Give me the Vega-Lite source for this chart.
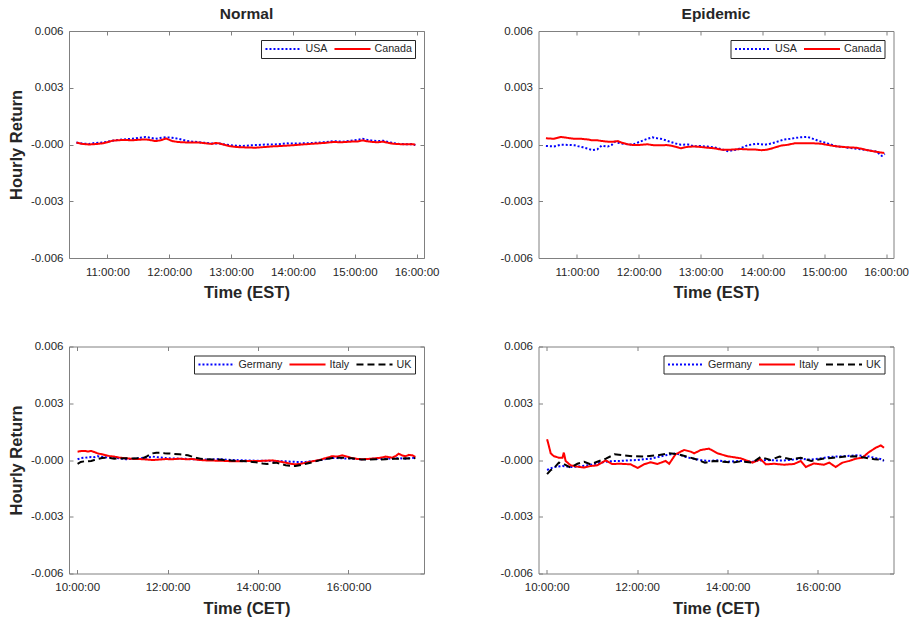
{
 "$schema": "https://vega.github.io/schema/vega-lite/v6.json",
 "background": "white",
 "padding": {"left": 8, "top": 6, "right": 2, "bottom": 2},
 "config": {
  "font": "Liberation Sans",
  "view": {"stroke": "#808080", "strokeWidth": 1},
  "axis": {"grid": false, "domain": false, "tickColor": "#808080", "tickSize": -4, "labelColor": "#262626", "labelFontSize": 11.5, "titleColor": "#262626", "titleFontSize": 16.5, "titleFontWeight": "bold", "labelPadding": 10},
  "axisX": {"labelPadding": 12, "titlePadding": 7},
  "axisY": {"labelPadding": 10, "titlePadding": 5.5},
  "title": {"fontSize": 15.5, "fontWeight": "bold", "color": "#262626", "offset": 3},
  "legend": {"orient": "top-right", "direction": "horizontal", "symbolType": "stroke", "symbolSize": 1300, "symbolStrokeWidth": 2, "clipHeight": 12, "strokeColor": "#262626", "fillColor": "white", "padding": 3, "offset": 9, "labelFontSize": 10.7, "labelColor": "#262626", "columnPadding": 5, "labelOffset": 2.5, "cornerRadius": 0}
 },
 "columns": 2,
 "spacing": {"column": 58.5, "row": 37.5},
 "resolve": {"scale": {"color": "independent", "strokeDash": "independent", "x": "independent", "y": "independent"}},
 "concat": [
  {
   "width": 355, "height": 227, "title": "Normal",
   "data": {"name": "normal_na"},
   "layer": [
    {"mark": {"type": "line", "strokeWidth": 2},
     "encoding": {
      "x": {"field": "t", "type": "quantitative", "scale": {"domain": [10.38, 16.12], "nice": false, "zero": false}, "axis": {"orient": "bottom", "values": [11, 12, 13, 14, 15, 16], "labelExpr": "datum.value + ':00:00'", "title": "Time (EST)"}},
      "y": {"field": "r", "type": "quantitative", "scale": {"domain": [-0.006, 0.006], "nice": false}, "axis": {"orient": "left", "values": [-0.006, -0.003, 0, 0.003, 0.006], "labelExpr": "(datum.value <= 0 ? '-' : '') + format(abs(datum.value), '.3f')", "title": "Hourly Return"}},
      "color": {"field": "series", "type": "nominal", "scale": {"domain": ["USA", "Canada"], "range": ["#0000ff", "#ff0000"]}, "legend": {"title": null}},
      "strokeDash": {"field": "series", "type": "nominal", "scale": {"domain": ["USA", "Canada"], "range": [[2, 2], [1, 0]]}, "legend": {"title": null}}
     }},
    {"mark": {"type": "point", "opacity": 0},
     "encoding": {
      "x": {"field": "t", "type": "quantitative", "scale": {"domain": [10.38, 16.12], "nice": false, "zero": false}, "axis": {"orient": "top", "values": [11, 12, 13, 14, 15, 16], "labels": false, "title": null}},
      "y": {"field": "r", "type": "quantitative", "scale": {"domain": [-0.006, 0.006], "nice": false}, "axis": {"orient": "right", "values": [-0.006, -0.003, 0, 0.003, 0.006], "labels": false, "title": null}}
     }}
   ]
  },
  {
   "width": 355, "height": 227, "title": "Epidemic",
   "data": {"name": "epidemic_na"},
   "layer": [
    {"mark": {"type": "line", "strokeWidth": 2},
     "encoding": {
      "x": {"field": "t", "type": "quantitative", "scale": {"domain": [10.38, 16.12], "nice": false, "zero": false}, "axis": {"orient": "bottom", "values": [11, 12, 13, 14, 15, 16], "labelExpr": "datum.value + ':00:00'", "title": "Time (EST)"}},
      "y": {"field": "r", "type": "quantitative", "scale": {"domain": [-0.006, 0.006], "nice": false}, "axis": {"orient": "left", "values": [-0.006, -0.003, 0, 0.003, 0.006], "labelExpr": "(datum.value <= 0 ? '-' : '') + format(abs(datum.value), '.3f')", "title": null}},
      "color": {"field": "series", "type": "nominal", "scale": {"domain": ["USA", "Canada"], "range": ["#0000ff", "#ff0000"]}, "legend": {"title": null}},
      "strokeDash": {"field": "series", "type": "nominal", "scale": {"domain": ["USA", "Canada"], "range": [[2, 2], [1, 0]]}, "legend": {"title": null}}
     }},
    {"mark": {"type": "point", "opacity": 0},
     "encoding": {
      "x": {"field": "t", "type": "quantitative", "scale": {"domain": [10.38, 16.12], "nice": false, "zero": false}, "axis": {"orient": "top", "values": [11, 12, 13, 14, 15, 16], "labels": false, "title": null}},
      "y": {"field": "r", "type": "quantitative", "scale": {"domain": [-0.006, 0.006], "nice": false}, "axis": {"orient": "right", "values": [-0.006, -0.003, 0, 0.003, 0.006], "labels": false, "title": null}}
     }}
   ]
  },
  {
   "width": 355, "height": 227,
   "data": {"name": "normal_eu"},
   "layer": [
    {"mark": {"type": "line", "strokeWidth": 2},
     "encoding": {
      "x": {"field": "t", "type": "quantitative", "scale": {"domain": [9.82, 17.67], "nice": false, "zero": false}, "axis": {"orient": "bottom", "values": [10, 12, 14, 16], "labelExpr": "datum.value + ':00:00'", "title": "Time (CET)"}},
      "y": {"field": "r", "type": "quantitative", "scale": {"domain": [-0.006, 0.006], "nice": false}, "axis": {"orient": "left", "values": [-0.006, -0.003, 0, 0.003, 0.006], "labelExpr": "(datum.value <= 0 ? '-' : '') + format(abs(datum.value), '.3f')", "title": "Hourly Return"}},
      "color": {"field": "series", "type": "nominal", "scale": {"domain": ["Germany", "Italy", "UK"], "range": ["#0000ff", "#ff0000", "#000000"]}, "legend": {"title": null}},
      "strokeDash": {"field": "series", "type": "nominal", "scale": {"domain": ["Germany", "Italy", "UK"], "range": [[2, 2], [1, 0], [7, 4]]}, "legend": {"title": null}}
     }},
    {"mark": {"type": "point", "opacity": 0},
     "encoding": {
      "x": {"field": "t", "type": "quantitative", "scale": {"domain": [9.82, 17.67], "nice": false, "zero": false}, "axis": {"orient": "top", "values": [10, 12, 14, 16], "labels": false, "title": null}},
      "y": {"field": "r", "type": "quantitative", "scale": {"domain": [-0.006, 0.006], "nice": false}, "axis": {"orient": "right", "values": [-0.006, -0.003, 0, 0.003, 0.006], "labels": false, "title": null}}
     }}
   ]
  },
  {
   "width": 355, "height": 227,
   "data": {"name": "epidemic_eu"},
   "layer": [
    {"mark": {"type": "line", "strokeWidth": 2},
     "encoding": {
      "x": {"field": "t", "type": "quantitative", "scale": {"domain": [9.82, 17.67], "nice": false, "zero": false}, "axis": {"orient": "bottom", "values": [10, 12, 14, 16], "labelExpr": "datum.value + ':00:00'", "title": "Time (CET)"}},
      "y": {"field": "r", "type": "quantitative", "scale": {"domain": [-0.006, 0.006], "nice": false}, "axis": {"orient": "left", "values": [-0.006, -0.003, 0, 0.003, 0.006], "labelExpr": "(datum.value <= 0 ? '-' : '') + format(abs(datum.value), '.3f')", "title": null}},
      "color": {"field": "series", "type": "nominal", "scale": {"domain": ["Germany", "Italy", "UK"], "range": ["#0000ff", "#ff0000", "#000000"]}, "legend": {"title": null}},
      "strokeDash": {"field": "series", "type": "nominal", "scale": {"domain": ["Germany", "Italy", "UK"], "range": [[2, 2], [1, 0], [7, 4]]}, "legend": {"title": null}}
     }},
    {"mark": {"type": "point", "opacity": 0},
     "encoding": {
      "x": {"field": "t", "type": "quantitative", "scale": {"domain": [9.82, 17.67], "nice": false, "zero": false}, "axis": {"orient": "top", "values": [10, 12, 14, 16], "labels": false, "title": null}},
      "y": {"field": "r", "type": "quantitative", "scale": {"domain": [-0.006, 0.006], "nice": false}, "axis": {"orient": "right", "values": [-0.006, -0.003, 0, 0.003, 0.006], "labels": false, "title": null}}
     }}
   ]
  }
 ],
 "datasets": {
  "normal_na": [
   {"series":"USA","t":10.5,"r":0.0001},{"series":"USA","t":10.6,"r":0.00005},{"series":"USA","t":10.7,"r":0.00003},{"series":"USA","t":10.8,"r":0.00008},{"series":"USA","t":10.92,"r":0.0001},{"series":"USA","t":11.08,"r":0.0002},{"series":"USA","t":11.2,"r":0.00025},{"series":"USA","t":11.3,"r":0.00028},{"series":"USA","t":11.4,"r":0.0003},{"series":"USA","t":11.5,"r":0.00035},{"series":"USA","t":11.62,"r":0.0004},{"series":"USA","t":11.7,"r":0.00035},{"series":"USA","t":11.78,"r":0.0003},{"series":"USA","t":11.88,"r":0.00036},{"series":"USA","t":11.95,"r":0.00038},{"series":"USA","t":12.05,"r":0.00036},{"series":"USA","t":12.15,"r":0.0003},{"series":"USA","t":12.27,"r":0.0002},{"series":"USA","t":12.38,"r":0.00015},{"series":"USA","t":12.49,"r":0.00012},{"series":"USA","t":12.6,"r":0.00008},{"series":"USA","t":12.68,"r":0.00005},{"series":"USA","t":12.81,"r":0.00005},{"series":"USA","t":12.9,"r":0.0},{"series":"USA","t":12.97,"r":-0.00003},{"series":"USA","t":13.08,"r":-0.00006},{"series":"USA","t":13.19,"r":-0.00008},{"series":"USA","t":13.3,"r":-0.00005},{"series":"USA","t":13.4,"r":-0.00003},{"series":"USA","t":13.55,"r":0.0},{"series":"USA","t":13.67,"r":0.0},{"series":"USA","t":13.8,"r":0.00002},{"series":"USA","t":13.9,"r":0.00006},{"series":"USA","t":14.0,"r":0.00005},{"series":"USA","t":14.15,"r":0.00006},{"series":"USA","t":14.32,"r":0.00008},{"series":"USA","t":14.5,"r":0.00012},{"series":"USA","t":14.65,"r":0.00018},{"series":"USA","t":14.8,"r":0.00015},{"series":"USA","t":14.92,"r":0.0002},{"series":"USA","t":15.05,"r":0.00025},{"series":"USA","t":15.13,"r":0.0003},{"series":"USA","t":15.2,"r":0.00025},{"series":"USA","t":15.29,"r":0.0002},{"series":"USA","t":15.38,"r":0.00018},{"series":"USA","t":15.46,"r":0.0002},{"series":"USA","t":15.55,"r":0.00012},{"series":"USA","t":15.62,"r":0.00008},{"series":"USA","t":15.72,"r":0.00003},{"series":"USA","t":15.84,"r":0.00001},{"series":"USA","t":15.92,"r":0.00002},{"series":"USA","t":15.98,"r":-0.00003},
   {"series":"Canada","t":10.5,"r":0.0001},{"series":"Canada","t":10.6,"r":0.00003},{"series":"Canada","t":10.7,"r":0.0},{"series":"Canada","t":10.8,"r":0.00002},{"series":"Canada","t":10.92,"r":0.00006},{"series":"Canada","t":11.0,"r":0.00012},{"series":"Canada","t":11.08,"r":0.0002},{"series":"Canada","t":11.2,"r":0.00023},{"series":"Canada","t":11.3,"r":0.00024},{"series":"Canada","t":11.4,"r":0.00022},{"series":"Canada","t":11.5,"r":0.00025},{"series":"Canada","t":11.62,"r":0.00027},{"series":"Canada","t":11.7,"r":0.00023},{"series":"Canada","t":11.78,"r":0.00018},{"series":"Canada","t":11.86,"r":0.00022},{"series":"Canada","t":11.95,"r":0.00032},{"series":"Canada","t":12.05,"r":0.00018},{"series":"Canada","t":12.15,"r":0.00013},{"series":"Canada","t":12.27,"r":0.00011},{"series":"Canada","t":12.38,"r":0.00011},{"series":"Canada","t":12.49,"r":0.0001},{"series":"Canada","t":12.6,"r":0.00006},{"series":"Canada","t":12.68,"r":0.00003},{"series":"Canada","t":12.75,"r":0.00008},{"series":"Canada","t":12.81,"r":0.00006},{"series":"Canada","t":12.9,"r":-0.00002},{"series":"Canada","t":12.97,"r":-0.00008},{"series":"Canada","t":13.08,"r":-0.00013},{"series":"Canada","t":13.19,"r":-0.00015},{"series":"Canada","t":13.3,"r":-0.00016},{"series":"Canada","t":13.4,"r":-0.00017},{"series":"Canada","t":13.55,"r":-0.00013},{"series":"Canada","t":13.67,"r":-0.0001},{"series":"Canada","t":13.8,"r":-0.00008},{"series":"Canada","t":13.9,"r":-0.00006},{"series":"Canada","t":14.0,"r":-0.00004},{"series":"Canada","t":14.15,"r":0.0},{"series":"Canada","t":14.32,"r":0.00004},{"series":"Canada","t":14.5,"r":0.00008},{"series":"Canada","t":14.65,"r":0.00013},{"series":"Canada","t":14.8,"r":0.00012},{"series":"Canada","t":14.92,"r":0.00015},{"series":"Canada","t":15.05,"r":0.00016},{"series":"Canada","t":15.13,"r":0.00022},{"series":"Canada","t":15.2,"r":0.00017},{"series":"Canada","t":15.29,"r":0.00013},{"series":"Canada","t":15.38,"r":0.00012},{"series":"Canada","t":15.46,"r":0.00015},{"series":"Canada","t":15.55,"r":0.00008},{"series":"Canada","t":15.62,"r":0.00004},{"series":"Canada","t":15.72,"r":0.00002},{"series":"Canada","t":15.84,"r":0.00001},{"series":"Canada","t":15.92,"r":0.00002},{"series":"Canada","t":15.98,"r":-0.00001}
  ],
  "epidemic_na": [
   {"series":"USA","t":10.5,"r":-0.00008},{"series":"USA","t":10.63,"r":-0.0001},{"series":"USA","t":10.74,"r":-0.00001},{"series":"USA","t":10.85,"r":-0.00002},{"series":"USA","t":10.96,"r":-0.00004},{"series":"USA","t":11.03,"r":-0.0001},{"series":"USA","t":11.1,"r":-0.00015},{"series":"USA","t":11.18,"r":-0.00022},{"series":"USA","t":11.25,"r":-0.0003},{"series":"USA","t":11.33,"r":-0.00026},{"series":"USA","t":11.4,"r":-0.00006},{"series":"USA","t":11.5,"r":-0.00011},{"series":"USA","t":11.56,"r":-0.00003},{"series":"USA","t":11.62,"r":0.00015},{"series":"USA","t":11.68,"r":0.00008},{"series":"USA","t":11.75,"r":0.00004},{"series":"USA","t":11.9,"r":-0.00001},{"series":"USA","t":12.02,"r":0.00015},{"series":"USA","t":12.14,"r":0.0003},{"series":"USA","t":12.22,"r":0.00038},{"series":"USA","t":12.3,"r":0.00033},{"series":"USA","t":12.36,"r":0.0003},{"series":"USA","t":12.44,"r":0.00022},{"series":"USA","t":12.52,"r":0.00013},{"series":"USA","t":12.6,"r":0.00005},{"series":"USA","t":12.68,"r":-0.00001},{"series":"USA","t":12.8,"r":0.0},{"series":"USA","t":12.9,"r":-0.0001},{"series":"USA","t":13.0,"r":-0.00008},{"series":"USA","t":13.11,"r":-0.00011},{"series":"USA","t":13.22,"r":-0.00015},{"series":"USA","t":13.33,"r":-0.00024},{"series":"USA","t":13.45,"r":-0.00036},{"series":"USA","t":13.52,"r":-0.0003},{"series":"USA","t":13.6,"r":-0.00026},{"series":"USA","t":13.68,"r":-0.00015},{"series":"USA","t":13.76,"r":-0.00004},{"series":"USA","t":13.9,"r":0.00004},{"series":"USA","t":14.04,"r":-0.00001},{"series":"USA","t":14.12,"r":0.00004},{"series":"USA","t":14.2,"r":0.00011},{"series":"USA","t":14.35,"r":0.00026},{"series":"USA","t":14.45,"r":0.0003},{"series":"USA","t":14.52,"r":0.00034},{"series":"USA","t":14.62,"r":0.00038},{"series":"USA","t":14.73,"r":0.0004},{"series":"USA","t":14.82,"r":0.0003},{"series":"USA","t":14.9,"r":0.0002},{"series":"USA","t":15.05,"r":0.00006},{"series":"USA","t":15.2,"r":-0.0001},{"series":"USA","t":15.3,"r":-0.00012},{"series":"USA","t":15.38,"r":-0.00017},{"series":"USA","t":15.46,"r":-0.0002},{"series":"USA","t":15.54,"r":-0.00024},{"series":"USA","t":15.62,"r":-0.00026},{"series":"USA","t":15.7,"r":-0.0003},{"series":"USA","t":15.78,"r":-0.00034},{"series":"USA","t":15.85,"r":-0.00038},{"series":"USA","t":15.93,"r":-0.0006},{"series":"USA","t":15.98,"r":-0.0005},
   {"series":"Canada","t":10.5,"r":0.00033},{"series":"Canada","t":10.63,"r":0.0003},{"series":"Canada","t":10.74,"r":0.0004},{"series":"Canada","t":10.85,"r":0.00035},{"series":"Canada","t":10.96,"r":0.0003},{"series":"Canada","t":11.07,"r":0.0003},{"series":"Canada","t":11.17,"r":0.00027},{"series":"Canada","t":11.25,"r":0.00022},{"series":"Canada","t":11.33,"r":0.00022},{"series":"Canada","t":11.42,"r":0.00018},{"series":"Canada","t":11.5,"r":0.00015},{"series":"Canada","t":11.58,"r":0.00014},{"series":"Canada","t":11.66,"r":0.00018},{"series":"Canada","t":11.74,"r":0.00008},{"series":"Canada","t":11.82,"r":0.00001},{"series":"Canada","t":11.9,"r":-0.00002},{"series":"Canada","t":11.98,"r":-0.00003},{"series":"Canada","t":12.06,"r":-0.00001},{"series":"Canada","t":12.14,"r":0.00001},{"series":"Canada","t":12.25,"r":-0.00004},{"series":"Canada","t":12.36,"r":-0.00004},{"series":"Canada","t":12.45,"r":-0.00003},{"series":"Canada","t":12.52,"r":-0.00006},{"series":"Canada","t":12.6,"r":-0.00012},{"series":"Canada","t":12.68,"r":-0.0002},{"series":"Canada","t":12.78,"r":-0.00013},{"series":"Canada","t":12.9,"r":-0.0001},{"series":"Canada","t":13.0,"r":-0.00013},{"series":"Canada","t":13.11,"r":-0.00017},{"series":"Canada","t":13.22,"r":-0.0002},{"series":"Canada","t":13.33,"r":-0.00027},{"series":"Canada","t":13.44,"r":-0.00028},{"series":"Canada","t":13.55,"r":-0.00026},{"series":"Canada","t":13.66,"r":-0.00024},{"series":"Canada","t":13.76,"r":-0.00026},{"series":"Canada","t":13.87,"r":-0.00026},{"series":"Canada","t":13.98,"r":-0.0003},{"series":"Canada","t":14.06,"r":-0.00028},{"series":"Canada","t":14.14,"r":-0.00022},{"series":"Canada","t":14.22,"r":-0.00014},{"series":"Canada","t":14.3,"r":-0.00006},{"series":"Canada","t":14.4,"r":-0.00002},{"series":"Canada","t":14.52,"r":0.00006},{"series":"Canada","t":14.62,"r":0.00007},{"series":"Canada","t":14.73,"r":0.00006},{"series":"Canada","t":14.84,"r":0.00006},{"series":"Canada","t":14.95,"r":0.00004},{"series":"Canada","t":15.05,"r":-0.00002},{"series":"Canada","t":15.16,"r":-0.00008},{"series":"Canada","t":15.27,"r":-0.00012},{"series":"Canada","t":15.38,"r":-0.00015},{"series":"Canada","t":15.46,"r":-0.00016},{"series":"Canada","t":15.54,"r":-0.00018},{"series":"Canada","t":15.62,"r":-0.00024},{"series":"Canada","t":15.7,"r":-0.0003},{"series":"Canada","t":15.78,"r":-0.00035},{"series":"Canada","t":15.87,"r":-0.0004},{"series":"Canada","t":15.97,"r":-0.00045}
  ],
  "normal_eu": [
   {"series":"Germany","t":10.01,"r":0.00004},{"series":"Germany","t":10.08,"r":0.0001},{"series":"Germany","t":10.16,"r":0.00012},{"series":"Germany","t":10.24,"r":0.00014},{"series":"Germany","t":10.31,"r":0.00016},{"series":"Germany","t":10.38,"r":0.00015},{"series":"Germany","t":10.45,"r":0.0002},{"series":"Germany","t":10.55,"r":0.00016},{"series":"Germany","t":10.64,"r":0.00014},{"series":"Germany","t":10.73,"r":0.00013},{"series":"Germany","t":10.82,"r":0.00012},{"series":"Germany","t":10.95,"r":0.00008},{"series":"Germany","t":11.08,"r":0.00004},{"series":"Germany","t":11.23,"r":0.00006},{"series":"Germany","t":11.38,"r":0.00009},{"series":"Germany","t":11.52,"r":0.00012},{"series":"Germany","t":11.67,"r":0.00018},{"series":"Germany","t":11.8,"r":0.00014},{"series":"Germany","t":11.96,"r":0.0001},{"series":"Germany","t":12.1,"r":0.00008},{"series":"Germany","t":12.26,"r":0.00007},{"series":"Germany","t":12.4,"r":0.00006},{"series":"Germany","t":12.55,"r":0.00004},{"series":"Germany","t":12.7,"r":0.00003},{"series":"Germany","t":12.85,"r":0.00002},{"series":"Germany","t":13.0,"r":0.00003},{"series":"Germany","t":13.14,"r":0.00005},{"series":"Germany","t":13.3,"r":0.00002},{"series":"Germany","t":13.43,"r":0.0},{"series":"Germany","t":13.58,"r":-0.00001},{"series":"Germany","t":13.73,"r":-0.00002},{"series":"Germany","t":13.88,"r":-0.00003},{"series":"Germany","t":14.02,"r":-0.00004},{"series":"Germany","t":14.17,"r":-0.00004},{"series":"Germany","t":14.32,"r":-0.00005},{"series":"Germany","t":14.47,"r":-0.00006},{"series":"Germany","t":14.61,"r":-0.00007},{"series":"Germany","t":14.72,"r":-0.00009},{"series":"Germany","t":14.83,"r":-0.0001},{"series":"Germany","t":14.95,"r":-0.0001},{"series":"Germany","t":15.06,"r":-0.0001},{"series":"Germany","t":15.2,"r":-0.00006},{"series":"Germany","t":15.35,"r":-0.00002},{"series":"Germany","t":15.5,"r":0.00005},{"series":"Germany","t":15.64,"r":0.0001},{"series":"Germany","t":15.75,"r":0.0001},{"series":"Germany","t":15.86,"r":0.00009},{"series":"Germany","t":15.97,"r":0.00008},{"series":"Germany","t":16.08,"r":0.00007},{"series":"Germany","t":16.19,"r":0.00005},{"series":"Germany","t":16.3,"r":0.00004},{"series":"Germany","t":16.45,"r":0.00005},{"series":"Germany","t":16.6,"r":0.00007},{"series":"Germany","t":16.71,"r":0.00006},{"series":"Germany","t":16.82,"r":0.00007},{"series":"Germany","t":16.97,"r":0.00008},{"series":"Germany","t":17.11,"r":0.0001},{"series":"Germany","t":17.26,"r":0.00007},{"series":"Germany","t":17.37,"r":0.0001},{"series":"Germany","t":17.48,"r":0.00012},
   {"series":"Italy","t":10.01,"r":0.00044},{"series":"Italy","t":10.08,"r":0.00047},{"series":"Italy","t":10.16,"r":0.00048},{"series":"Italy","t":10.24,"r":0.00045},{"series":"Italy","t":10.31,"r":0.00048},{"series":"Italy","t":10.38,"r":0.00042},{"series":"Italy","t":10.45,"r":0.00035},{"series":"Italy","t":10.55,"r":0.0003},{"series":"Italy","t":10.64,"r":0.00025},{"series":"Italy","t":10.73,"r":0.0002},{"series":"Italy","t":10.82,"r":0.00018},{"series":"Italy","t":10.95,"r":0.00012},{"series":"Italy","t":11.08,"r":0.00009},{"series":"Italy","t":11.23,"r":0.00006},{"series":"Italy","t":11.38,"r":0.00005},{"series":"Italy","t":11.52,"r":0.00003},{"series":"Italy","t":11.67,"r":0.0},{"series":"Italy","t":11.8,"r":0.00002},{"series":"Italy","t":11.96,"r":0.00005},{"series":"Italy","t":12.1,"r":0.00004},{"series":"Italy","t":12.26,"r":0.00007},{"series":"Italy","t":12.4,"r":0.00004},{"series":"Italy","t":12.55,"r":0.00005},{"series":"Italy","t":12.7,"r":0.0},{"series":"Italy","t":12.85,"r":-0.00002},{"series":"Italy","t":13.0,"r":-0.00003},{"series":"Italy","t":13.14,"r":-0.00004},{"series":"Italy","t":13.3,"r":-0.00005},{"series":"Italy","t":13.43,"r":-0.00007},{"series":"Italy","t":13.58,"r":-0.00007},{"series":"Italy","t":13.73,"r":-0.00005},{"series":"Italy","t":13.88,"r":-0.00006},{"series":"Italy","t":14.02,"r":-0.00005},{"series":"Italy","t":14.17,"r":-0.00004},{"series":"Italy","t":14.32,"r":-0.00002},{"series":"Italy","t":14.47,"r":-0.00008},{"series":"Italy","t":14.61,"r":-0.00014},{"series":"Italy","t":14.72,"r":-0.0002},{"series":"Italy","t":14.83,"r":-0.00023},{"series":"Italy","t":14.95,"r":-0.0002},{"series":"Italy","t":15.06,"r":-0.00014},{"series":"Italy","t":15.2,"r":-0.00007},{"series":"Italy","t":15.35,"r":0.0},{"series":"Italy","t":15.5,"r":0.0001},{"series":"Italy","t":15.64,"r":0.0002},{"series":"Italy","t":15.75,"r":0.00018},{"series":"Italy","t":15.86,"r":0.00025},{"series":"Italy","t":15.97,"r":0.00018},{"series":"Italy","t":16.08,"r":0.0001},{"series":"Italy","t":16.19,"r":0.00006},{"series":"Italy","t":16.3,"r":0.00004},{"series":"Italy","t":16.45,"r":0.00006},{"series":"Italy","t":16.6,"r":0.00009},{"series":"Italy","t":16.71,"r":0.00012},{"series":"Italy","t":16.82,"r":0.00018},{"series":"Italy","t":16.97,"r":0.00012},{"series":"Italy","t":17.05,"r":0.00022},{"series":"Italy","t":17.11,"r":0.00033},{"series":"Italy","t":17.18,"r":0.00025},{"series":"Italy","t":17.26,"r":0.0002},{"series":"Italy","t":17.34,"r":0.00027},{"series":"Italy","t":17.41,"r":0.00025},{"series":"Italy","t":17.48,"r":0.00016},
   {"series":"UK","t":10.01,"r":-0.0002},{"series":"UK","t":10.08,"r":-0.0001},{"series":"UK","t":10.16,"r":-0.00007},{"series":"UK","t":10.24,"r":-0.00007},{"series":"UK","t":10.31,"r":-0.00005},{"series":"UK","t":10.38,"r":0.0},{"series":"UK","t":10.45,"r":0.00005},{"series":"UK","t":10.55,"r":0.0001},{"series":"UK","t":10.64,"r":0.00012},{"series":"UK","t":10.73,"r":0.0001},{"series":"UK","t":10.82,"r":0.00007},{"series":"UK","t":10.95,"r":0.00008},{"series":"UK","t":11.08,"r":0.00009},{"series":"UK","t":11.23,"r":0.00008},{"series":"UK","t":11.38,"r":0.0001},{"series":"UK","t":11.48,"r":0.00012},{"series":"UK","t":11.55,"r":0.0002},{"series":"UK","t":11.62,"r":0.0003},{"series":"UK","t":11.67,"r":0.00035},{"series":"UK","t":11.75,"r":0.00038},{"series":"UK","t":11.85,"r":0.00039},{"series":"UK","t":11.93,"r":0.00036},{"series":"UK","t":12.0,"r":0.00035},{"series":"UK","t":12.1,"r":0.00033},{"series":"UK","t":12.26,"r":0.0003},{"series":"UK","t":12.36,"r":0.00028},{"series":"UK","t":12.45,"r":0.00025},{"series":"UK","t":12.55,"r":0.00017},{"series":"UK","t":12.65,"r":0.0001},{"series":"UK","t":12.75,"r":0.00006},{"series":"UK","t":12.85,"r":0.00004},{"series":"UK","t":13.0,"r":0.00002},{"series":"UK","t":13.14,"r":0.00002},{"series":"UK","t":13.3,"r":0.0},{"series":"UK","t":13.43,"r":-0.00004},{"series":"UK","t":13.58,"r":-0.00005},{"series":"UK","t":13.73,"r":-0.00007},{"series":"UK","t":13.88,"r":-0.0001},{"series":"UK","t":14.02,"r":-0.00014},{"series":"UK","t":14.1,"r":-0.00018},{"series":"UK","t":14.2,"r":-0.00021},{"series":"UK","t":14.3,"r":-0.00016},{"series":"UK","t":14.4,"r":-0.00014},{"series":"UK","t":14.5,"r":-0.0002},{"series":"UK","t":14.61,"r":-0.00028},{"series":"UK","t":14.72,"r":-0.0003},{"series":"UK","t":14.83,"r":-0.00032},{"series":"UK","t":14.95,"r":-0.00026},{"series":"UK","t":15.06,"r":-0.0002},{"series":"UK","t":15.2,"r":-0.00012},{"series":"UK","t":15.35,"r":-0.00002},{"series":"UK","t":15.5,"r":0.00005},{"series":"UK","t":15.64,"r":0.0001},{"series":"UK","t":15.75,"r":0.00012},{"series":"UK","t":15.86,"r":0.00012},{"series":"UK","t":15.97,"r":0.0001},{"series":"UK","t":16.08,"r":0.00009},{"series":"UK","t":16.19,"r":0.00005},{"series":"UK","t":16.3,"r":0.00002},{"series":"UK","t":16.45,"r":0.00003},{"series":"UK","t":16.6,"r":0.00004},{"series":"UK","t":16.71,"r":0.00002},{"series":"UK","t":16.82,"r":0.00004},{"series":"UK","t":16.97,"r":0.00006},{"series":"UK","t":17.11,"r":0.00007},{"series":"UK","t":17.26,"r":0.00009},{"series":"UK","t":17.37,"r":0.00008},{"series":"UK","t":17.48,"r":0.0001}
  ],
  "epidemic_eu": [
   {"series":"Germany","t":10.01,"r":-0.00053},{"series":"Germany","t":10.08,"r":-0.00045},{"series":"Germany","t":10.16,"r":-0.00037},{"series":"Germany","t":10.25,"r":-0.00035},{"series":"Germany","t":10.35,"r":-0.00032},{"series":"Germany","t":10.45,"r":-0.00035},{"series":"Germany","t":10.53,"r":-0.00037},{"series":"Germany","t":10.6,"r":-0.00036},{"series":"Germany","t":10.68,"r":-0.00035},{"series":"Germany","t":10.83,"r":-0.0003},{"series":"Germany","t":10.97,"r":-0.00026},{"series":"Germany","t":11.12,"r":-0.00018},{"series":"Germany","t":11.31,"r":-0.00009},{"series":"Germany","t":11.45,"r":-0.00006},{"series":"Germany","t":11.64,"r":-0.00005},{"series":"Germany","t":11.8,"r":-0.00002},{"series":"Germany","t":12.01,"r":0.0},{"series":"Germany","t":12.15,"r":0.00004},{"series":"Germany","t":12.3,"r":0.00007},{"series":"Germany","t":12.45,"r":0.00015},{"series":"Germany","t":12.63,"r":0.00025},{"series":"Germany","t":12.75,"r":0.0003},{"series":"Germany","t":12.85,"r":0.00035},{"series":"Germany","t":12.95,"r":0.00028},{"series":"Germany","t":13.04,"r":0.00018},{"series":"Germany","t":13.15,"r":0.00012},{"series":"Germany","t":13.26,"r":0.00007},{"series":"Germany","t":13.4,"r":0.0},{"series":"Germany","t":13.59,"r":-0.00005},{"series":"Germany","t":13.78,"r":-0.00002},{"series":"Germany","t":13.9,"r":-0.00006},{"series":"Germany","t":14.0,"r":-0.00009},{"series":"Germany","t":14.15,"r":-0.00007},{"series":"Germany","t":14.29,"r":-0.00005},{"series":"Germany","t":14.42,"r":-0.00006},{"series":"Germany","t":14.55,"r":-0.00009},{"series":"Germany","t":14.7,"r":-0.00003},{"series":"Germany","t":14.85,"r":0.0},{"series":"Germany","t":15.05,"r":-0.00002},{"series":"Germany","t":15.25,"r":-0.00002},{"series":"Germany","t":15.45,"r":0.00002},{"series":"Germany","t":15.62,"r":0.00007},{"series":"Germany","t":15.78,"r":0.00002},{"series":"Germany","t":15.91,"r":0.00004},{"series":"Germany","t":16.1,"r":0.0001},{"series":"Germany","t":16.25,"r":0.00016},{"series":"Germany","t":16.4,"r":0.00018},{"series":"Germany","t":16.54,"r":0.0002},{"series":"Germany","t":16.7,"r":0.00022},{"series":"Germany","t":16.84,"r":0.00025},{"series":"Germany","t":16.98,"r":0.00022},{"series":"Germany","t":17.13,"r":0.00018},{"series":"Germany","t":17.28,"r":0.0001},{"series":"Germany","t":17.38,"r":0.00005},{"series":"Germany","t":17.46,"r":-0.00005},
   {"series":"Italy","t":10.01,"r":0.0011},{"series":"Italy","t":10.05,"r":0.00074},{"series":"Italy","t":10.09,"r":0.00035},{"series":"Italy","t":10.16,"r":0.0002},{"series":"Italy","t":10.27,"r":0.00012},{"series":"Italy","t":10.35,"r":0.00012},{"series":"Italy","t":10.38,"r":0.00039},{"series":"Italy","t":10.42,"r":-0.00005},{"series":"Italy","t":10.53,"r":-0.00028},{"series":"Italy","t":10.68,"r":-0.00035},{"series":"Italy","t":10.83,"r":-0.0004},{"series":"Italy","t":10.97,"r":-0.00032},{"series":"Italy","t":11.12,"r":-0.00028},{"series":"Italy","t":11.31,"r":-0.00002},{"series":"Italy","t":11.45,"r":-0.00021},{"series":"Italy","t":11.64,"r":-0.0002},{"series":"Italy","t":11.86,"r":-0.00023},{"series":"Italy","t":12.01,"r":-0.00042},{"series":"Italy","t":12.15,"r":-0.00023},{"series":"Italy","t":12.3,"r":-0.00012},{"series":"Italy","t":12.45,"r":-0.00021},{"series":"Italy","t":12.63,"r":-0.00005},{"series":"Italy","t":12.71,"r":-0.0002},{"series":"Italy","t":12.85,"r":0.0003},{"series":"Italy","t":13.04,"r":0.00053},{"series":"Italy","t":13.19,"r":0.00044},{"series":"Italy","t":13.26,"r":0.00035},{"series":"Italy","t":13.41,"r":0.00053},{"series":"Italy","t":13.59,"r":0.0006},{"series":"Italy","t":13.78,"r":0.00035},{"series":"Italy","t":14.0,"r":0.0002},{"series":"Italy","t":14.29,"r":0.00009},{"series":"Italy","t":14.55,"r":-0.00014},{"series":"Italy","t":14.73,"r":0.00004},{"series":"Italy","t":14.85,"r":-0.00023},{"series":"Italy","t":15.03,"r":-0.0002},{"series":"Italy","t":15.25,"r":-0.00025},{"series":"Italy","t":15.47,"r":-0.00021},{"series":"Italy","t":15.62,"r":-0.00005},{"series":"Italy","t":15.73,"r":-0.00037},{"series":"Italy","t":15.91,"r":-0.00018},{"series":"Italy","t":16.13,"r":-0.00025},{"series":"Italy","t":16.25,"r":-0.00014},{"series":"Italy","t":16.39,"r":-0.00037},{"series":"Italy","t":16.54,"r":-0.00014},{"series":"Italy","t":16.69,"r":-0.00005},{"series":"Italy","t":16.84,"r":0.00007},{"series":"Italy","t":16.98,"r":0.00012},{"series":"Italy","t":17.13,"r":0.00042},{"series":"Italy","t":17.28,"r":0.00065},{"series":"Italy","t":17.39,"r":0.00077},{"series":"Italy","t":17.46,"r":0.00065},
   {"series":"UK","t":10.01,"r":-0.00075},{"series":"UK","t":10.09,"r":-0.00053},{"series":"UK","t":10.16,"r":-0.00044},{"series":"UK","t":10.27,"r":-0.00014},{"series":"UK","t":10.38,"r":-0.00021},{"series":"UK","t":10.53,"r":-0.0004},{"series":"UK","t":10.68,"r":-0.0002},{"series":"UK","t":10.83,"r":-0.00009},{"series":"UK","t":10.97,"r":-0.00023},{"series":"UK","t":11.12,"r":-0.00009},{"series":"UK","t":11.31,"r":0.00007},{"series":"UK","t":11.5,"r":0.0003},{"series":"UK","t":11.7,"r":0.00025},{"series":"UK","t":11.9,"r":0.0002},{"series":"UK","t":12.15,"r":0.00018},{"series":"UK","t":12.45,"r":0.00025},{"series":"UK","t":12.71,"r":0.00035},{"series":"UK","t":12.9,"r":0.0003},{"series":"UK","t":13.1,"r":0.00018},{"series":"UK","t":13.3,"r":0.00004},{"series":"UK","t":13.5,"r":-0.00014},{"series":"UK","t":13.7,"r":-0.00005},{"series":"UK","t":13.9,"r":-0.00009},{"series":"UK","t":14.1,"r":-0.00014},{"series":"UK","t":14.29,"r":-0.00007},{"series":"UK","t":14.55,"r":-0.00014},{"series":"UK","t":14.73,"r":0.00016},{"series":"UK","t":14.95,"r":0.0},{"series":"UK","t":15.15,"r":0.00018},{"series":"UK","t":15.4,"r":0.00004},{"series":"UK","t":15.62,"r":0.00012},{"series":"UK","t":15.85,"r":-0.00005},{"series":"UK","t":16.1,"r":0.00007},{"series":"UK","t":16.35,"r":0.00012},{"series":"UK","t":16.6,"r":0.00018},{"series":"UK","t":16.84,"r":0.0002},{"series":"UK","t":17.05,"r":0.00012},{"series":"UK","t":17.25,"r":0.00004},{"series":"UK","t":17.45,"r":0.0}
  ]
 }
}
